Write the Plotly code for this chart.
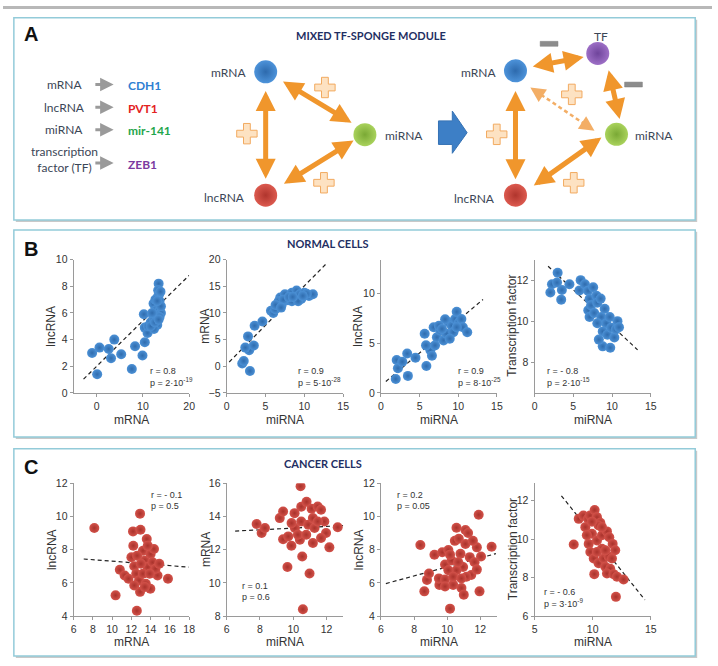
import plotly.graph_objects as go

W, H = 718, 666

# ---------------- data: NORMAL CELLS ----------------
n1_mrna = [-1.0, 0.1, 0.6, 2.6, 3.1, 3.8, 5.3, 7.6, 8.3, 9.9, 10.4, 10.2, 10.4, 11.0, 11.1,
           13.4, 13.3, 13.5, 13.2, 13.6, 12.9, 13.3, 12.3, 12.8, 13.6, 13.9, 12.2, 13.0, 13.6,
           11.7, 12.4, 13.1, 12.4, 11.7, 13.9, 12.7, 13.8, 12.0, 13.1, 12.6, 13.4]
n1_lnc = [3.0, 1.4, 3.4, 3.3, 2.6, 4.0, 2.9, 1.8, 3.5, 2.8, 3.8, 5.9, 4.9, 4.5, 5.0,
          8.2, 7.7, 7.4, 7.2, 6.9, 6.7, 6.5, 6.7, 6.2, 6.2, 6.0, 5.8, 5.8, 5.7,
          5.3, 5.5, 5.1, 4.8, 5.0, 6.5, 7.0, 7.6, 6.0, 6.9, 5.3, 5.5]
n1_fit_x = [-2.85, 20.0]
n1_fit_y = [1.03, 8.82]

n2_mir = [2.0, 2.2, 3.0, 2.9, 2.4, 2.75, 3.5, 3.6, 4.6, 5.7, 6.0, 6.25, 6.9, 7.1, 7.5, 7.9,
          8.4, 8.8, 9.0, 9.4, 10.0, 10.6, 11.1, 9.6, 6.7, 8.4, 9.2, 7.3, 8.0, 10.3, 6.3, 7.0, 8.5, 9.8]
n2_mrna = [0.5, 1.0, -0.9, 3.0, 3.5, 5.6, 3.9, 7.6, 8.4, 10.4, 10.0, 10.7, 12.9, 11.6, 13.5, 12.4,
           13.8, 12.9, 14.2, 13.5, 13.8, 13.2, 13.5, 12.6, 12.2, 12.2, 12.2, 12.5, 13.0, 13.6, 11.5, 11.0, 13.0, 13.2]
n2_fit_x = [0.33, 13.0]
n2_fit_y = [0.8, 19.5]

n3_mir = [1.92, 2.04, 2.2, 2.77, 3.4, 3.49, 4.47, 5.66, 5.88, 6.4, 6.6, 5.83, 6.82, 7.0, 7.24, 7.67,
          8.1, 8.5, 8.73, 9.16, 9.37, 9.6, 9.8, 10.1, 10.4, 10.6, 11.16, 8.3, 7.5, 8.9, 7.9, 9.8]
n3_lnc = [1.39, 3.3, 2.47, 3.13, 3.96, 1.71, 3.53, 5.94, 2.7, 4.29, 3.73, 4.78, 6.6, 4.78, 5.6, 6.27,
          5.28, 5.94, 7.1, 6.76, 6.1, 7.42, 8.15, 7.1, 7.42, 6.6, 6.1, 7.4, 6.76, 5.45, 6.43, 6.6]
n3_fit_x = [0.64, 13.2]
n3_fit_y = [1.15, 9.4]

n4_mir = [2.04, 2.25, 2.9, 2.98, 3.53, 3.44, 4.5, 5.95, 5.8, 6.5, 6.9, 7.1, 7.57, 7.99, 6.93, 7.1,
          7.3, 7.7, 8.1, 8.62, 9.05, 9.26, 8.8, 9.4, 9.9, 10.3, 10.7, 10.5, 10.9, 8.8, 9.77, 8.53, 8.1, 9.7, 8.3]
n4_tf = [11.4, 11.8, 11.88, 12.36, 11.52, 11.05, 11.8, 12.0, 11.5, 11.8, 11.48, 11.08, 11.65, 11.24, 10.53, 10.2,
         10.77, 10.4, 10.9, 10.2, 10.6, 9.89, 9.5, 9.34, 9.68, 9.2, 10.0, 9.6, 9.7, 8.77, 8.7, 11.1, 9.9, 10.2, 9.1]
n4_fit_x = [1.75, 13.3]
n4_fit_y = [12.68, 8.6]

# ---------------- data: CANCER CELLS ----------------
c1_mrna = [8.15, 10.36, 10.8, 11.3, 11.7, 12.57, 12.17, 12.9, 12.95, 13.6, 12.9, 13.97, 14.72, 15.8, 12.2,
           12.0, 12.3, 12.5, 12.8, 13.2, 13.4, 13.7, 14.0, 14.2, 14.5, 14.9, 14.35, 13.5, 13.2, 13.9,
           12.6, 13.0, 13.7, 12.3, 13.4]
c1_lnc = [9.3, 5.25, 6.79, 6.45, 6.25, 4.32, 9.1, 10.17, 9.2, 8.64, 5.46, 5.65, 6.45, 6.25, 8.24,
          7.54, 7.0, 6.55, 6.15, 7.94, 7.35, 6.95, 7.74, 7.24, 6.85, 7.15, 8.04, 5.95, 6.55, 6.55,
          7.64, 7.15, 8.24, 5.85, 5.75]
c1_fit_x = [7.05, 17.96]
c1_fit_y = [7.44, 6.95]

c2_mir = [10.44, 7.8, 8.1, 8.3, 9.19, 9.39, 9.7, 9.89, 9.65, 10.48, 10.8, 11.1, 11.47, 11.67, 11.87, 11.97,
          12.17, 12.67, 10.98, 10.54, 10.58, 11.67, 11.18, 10.4, 10.1, 10.48, 10.9, 11.28, 10.08, 10.28,
          10.78, 11.18, 9.39, 11.47, 9.9]
c2_mrna = [15.82, 13.55, 13.0, 13.3, 13.9, 12.63, 12.8, 12.24, 10.96, 14.59, 14.88, 14.47, 14.6, 14.4, 13.7, 13.0,
           12.14, 13.35, 10.57, 11.59, 8.41, 12.7, 12.4, 12.6, 13.3, 13.7, 13.5, 13.3, 14.2, 12.9,
           12.9, 13.9, 14.3, 13.7, 13.6]
c2_fit_x = [6.51, 13.0]
c2_fit_y = [13.12, 13.45]

c3_mir = [8.38, 8.62, 8.78, 8.9, 9.23, 9.53, 9.5, 9.7, 9.87, 10.17, 9.87, 10.07, 10.27, 10.36, 10.46, 10.56,
          10.7, 10.86, 11.0, 11.1, 11.26, 11.1, 10.8, 10.96, 11.36, 11.45, 11.65, 11.79, 11.9, 11.95,
          12.04, 11.79, 12.68, 10.56, 10.07, 10.36, 10.66, 11.16, 11.55, 9.87, 10.86, 10.17]
c3_lnc = [8.28, 5.49, 6.18, 6.57, 7.69, 5.88, 6.27, 7.84, 6.2, 4.45, 7.1, 7.98, 7.35, 5.88, 8.53, 9.32,
          8.66, 5.69, 5.29, 9.18, 9.0, 8.34, 7.75, 6.96, 7.55, 6.47, 7.25, 8.14, 10.1, 5.49,
          7.59, 6.8, 8.18, 6.76, 6.76, 6.37, 7.25, 6.37, 8.53, 5.78, 6.27, 7.7]
c3_fit_x = [6.3, 12.94]
c3_fit_y = [5.96, 7.76]

c4_mir = [8.37, 8.8, 9.2, 9.6, 9.37, 9.77, 10.17, 10.37, 10.66, 9.94, 10.37, 10.8, 11.23, 11.43, 11.72,
          9.66, 9.8, 10.09, 10.51, 10.94, 11.37, 11.66, 11.09, 11.51, 11.23, 10.14, 11.8, 12.09, 12.66,
          12.0, 9.5, 10.8, 10.37, 11.09, 11.94, 10.51, 9.94, 10.8]
c4_tf = [9.72, 11.05, 11.22, 11.05, 10.62, 11.22, 11.51, 11.14, 10.85, 10.28, 9.93, 10.2, 10.4, 10.1, 9.75,
         9.75, 9.33, 8.99, 8.75, 8.99, 9.1, 8.99, 8.56, 8.46, 8.21, 8.18, 8.18, 8.05, 7.9,
         7.0, 10.2, 9.5, 9.33, 9.42, 9.42, 10.71, 10.9, 10.62]
c4_fit_x = [7.31, 14.5]
c4_fit_y = [12.25, 6.84]

# axis ticks
ticks_b1_x = [0, 10, 20];  ticks_b1_y = [0, 2, 4, 6, 8, 10]
ticks_b2_x = [0, 5, 10, 15]; ticks_b2_y = [-5, 0, 5, 10, 15, 20]
ticks_b3_x = [0, 5, 10, 15]; ticks_b3_y = [0, 5, 10]
ticks_b4_x = [0, 5, 10, 15]; ticks_b4_y = [8, 10, 12]
ticks_c1_x = [6, 8, 10, 12, 14, 16, 18]; ticks_c1_y = [4, 6, 8, 10, 12]
ticks_c2_x = [6, 8, 10, 12]; ticks_c2_y = [8, 10, 12, 14, 16]
ticks_c3_x = [6, 8, 10, 12]; ticks_c3_y = [4, 6, 8, 10, 12]
ticks_c4_x = [5, 10, 15]; ticks_c4_y = [6, 8, 10, 12]

BLUE, BLUE_EDGE = "#4c91d6", "#2f6cae"
RED, RED_EDGE = "#d3524a", "#a9322b"

panels = [
    (n1_mrna, n1_lnc, BLUE, BLUE_EDGE, [-5, 20], ticks_b1_x, [0, 10], ticks_b1_y, "mRNA", "lncRNA",
     n1_fit_x, n1_fit_y, "r = 0.8", "p = 2·10<sup>-19</sup>", (147, 372)),
    (n2_mir, n2_mrna, BLUE, BLUE_EDGE, [0, 15], ticks_b2_x, [-5, 20], ticks_b2_y, "miRNA", "mRNA",
     n2_fit_x, n2_fit_y, "r = 0.9", "p = 5·10<sup>-28</sup>", (297, 372)),
    (n3_mir, n3_lnc, BLUE, BLUE_EDGE, [0, 15], ticks_b3_x, [0, 13.4], ticks_b3_y, "miRNA", "lncRNA",
     n3_fit_x, n3_fit_y, "r = 0.9", "p = 8·10<sup>-25</sup>", (459, 372)),
    (n4_mir, n4_tf, BLUE, BLUE_EDGE, [0, 15], ticks_b4_x, [6.5, 13], ticks_b4_y, "miRNA", "Transcription factor",
     n4_fit_x, n4_fit_y, "r = - 0.8", "p = 2·10<sup>-15</sup>", (549, 372)),
    (c1_mrna, c1_lnc, RED, RED_EDGE, [6, 18], ticks_c1_x, [4, 12], ticks_c1_y, "mRNA", "lncRNA",
     c1_fit_x, c1_fit_y, "r = - 0.1", "p = 0.5", (148, 498)),
    (c2_mir, c2_mrna, RED, RED_EDGE, [6, 13], ticks_c2_x, [8, 16], ticks_c2_y, "miRNA", "mRNA",
     c2_fit_x, c2_fit_y, "r = 0.1", "p = 0.6", (240, 591)),
    (c3_mir, c3_lnc, RED, RED_EDGE, [6, 13], ticks_c3_x, [4, 12], ticks_c3_y, "miRNA", "lncRNA",
     c3_fit_x, c3_fit_y, "r = 0.2", "p = 0.05", (397, 498)),
    (c4_mir, c4_tf, RED, RED_EDGE, [5, 15], ticks_c4_x, [6, 12.9], ticks_c4_y, "miRNA", "Transcription factor",
     c4_fit_x, c4_fit_y, "r = - 0.6", "p = 3·10<sup>-9</sup>", (546, 597)),
]

# pixel boxes of the plot areas
col_px = [(71.5, 188.5), (226.5, 344.5), (382.7, 500.2), (538.3, 656.0)]
row_px = [(258.3, 394.0), (486.0, 621.3)]
ytitle_px = [49, 205, 360, 516]
xtitle_py = [421.7, 648.0]

# ---------------- diagram (panel A) ----------------
node1_names = ["mRNA", "lncRNA", "miRNA"]
node1_x = [266, 266, 366.5]
node1_y = [67, 192.7, 131]
node2_names = ["mRNA", "lncRNA", "miRNA", "TF"]
node2_x = [519, 519, 621.3, 602.3]
node2_y = [66, 192.7, 130.7, 48.3]
node_colors = {"mRNA": ("#4d93da", "#2d6aad"), "lncRNA": ("#dc5a4f", "#b0352d"),
               "miRNA": ("#a9d25c", "#7aa935"), "TF": ("#9d6fc6", "#6f449b")}

legend_terms = ["mRNA", "lncRNA", "miRNA", "transcription<br>factor (TF)"]
legend_genes = ["CDH1", "PVT1", "mir-141", "ZEB1"]
legend_gene_colors = ["#2f80d2", "#e32222", "#1fa64c", "#7b3aa0"]

FONT = "Liberation Sans, Arial"
DFONT = "Lato, Open Sans"


def P(x, y):
    return x / W, 1 - y / H


fig = go.Figure()
annotations = []
shapes = []
layout_axes = {}

for i, (xs, ys, col, edge, xr, xt, yr, yt, xtitle, ytitle, fx, fy, rt, pt, spx) in enumerate(panels):
    k = i + 1
    c = i % 4
    r = i // 4
    x0, x1 = col_px[c]
    y0, y1 = row_px[r]
    xa = "xaxis" if k == 1 else f"xaxis{k}"
    ya = "yaxis" if k == 1 else f"yaxis{k}"
    xref = "x" if k == 1 else f"x{k}"
    yref = "y" if k == 1 else f"y{k}"
    axis_common = dict(showgrid=False, zeroline=False, showline=True, linecolor="#9a9a9a", linewidth=1,
                       ticks="outside", ticklen=3, tickcolor="#9a9a9a",
                       tickfont=dict(family=FONT, size=10.5, color="#333333"), fixedrange=True)
    layout_axes[xa] = dict(domain=[x0 / W, x1 / W], range=xr, tickvals=xt, anchor=yref, **axis_common)
    layout_axes[ya] = dict(domain=[1 - y1 / H, 1 - y0 / H], range=yr, tickvals=yt, anchor=xref, **axis_common)
    fig.add_trace(go.Scatter(x=fx, y=fy, mode="lines", xaxis=xref, yaxis=yref,
                             line=dict(color="#222222", width=1.2, dash="4px,3px"), hoverinfo="skip"))
    fig.add_trace(go.Scatter(x=xs, y=ys, mode="markers", xaxis=xref, yaxis=yref,
                             marker=dict(size=10, color=col, line=dict(width=0),
                                         gradient=dict(type="radial", color=edge))))
    # axis titles
    tx, ty = P((x0 + x1) / 2, xtitle_py[r])
    annotations.append(dict(x=tx, y=ty, xref="paper", yref="paper", text=xtitle, showarrow=False,
                            font=dict(family=FONT, size=12, color="#333333")))
    tx, ty = P(ytitle_px[c], (y0 + y1) / 2)
    annotations.append(dict(x=tx, y=ty, xref="paper", yref="paper", text=ytitle, showarrow=False, textangle=-90,
                            font=dict(family=FONT, size=12, color="#333333")))
    # stats
    sx, sy = P(spx[0], spx[1])
    annotations.append(dict(x=sx, y=sy, xref="paper", yref="paper", text=rt, showarrow=False, xanchor="left",
                            font=dict(family=FONT, size=9, color="#333333")))
    sx, sy = P(spx[0], spx[1] + 11)
    annotations.append(dict(x=sx, y=sy, xref="paper", yref="paper", text=pt, showarrow=False, xanchor="left",
                            font=dict(family=FONT, size=9, color="#333333")))

# overlay axis in pixel units for the diagram
layout_axes["xaxis9"] = dict(domain=[0, 1], range=[0, W], visible=False, fixedrange=True, anchor="y9")
layout_axes["yaxis9"] = dict(domain=[0, 1], range=[H, 0], visible=False, fixedrange=True, anchor="x9")

# panel frames (paper, below)
for (px0, py0, px1, py1) in [(11, 12, 701, 218), (11, 228, 701, 439), (11, 451, 701, 662)]:
    a, b = P(px0 + 2, py1 + 2)
    c_, d = P(px1 + 2, py0 + 2)
    shapes.append(dict(type="rect", xref="paper", yref="paper", x0=a, y0=b, x1=c_, y1=d,
                       fillcolor="#c9c9c9", line=dict(width=0), layer="below"))
    a, b = P(px0, py1)
    c_, d = P(px1, py0)
    shapes.append(dict(type="rect", xref="paper", yref="paper", x0=a, y0=b, x1=c_, y1=d,
                       fillcolor="white", line=dict(color="#93cbd9", width=1.5), layer="below"))
a, b = P(0, 3)
shapes.append(dict(type="rect", xref="paper", yref="paper", x0=0, y0=b, x1=1, y1=1,
                   fillcolor="#b8b8b8", line=dict(width=0), layer="below"))

# panel letters and titles
for lab, (lx, ly) in zip(["A", "B", "C"], [(28, 28), (28, 247), (28, 469)]):
    annotations.append(dict(x=lx, y=ly, xref="x9", yref="y9", text=f"<b>{lab}</b>", showarrow=False,
                            font=dict(family=FONT, size=20, color="#111111")))
for t, (tx, ty) in [("MIXED TF-SPONGE MODULE", (373, 30)), ("NORMAL CELLS", (329, 242)),
                    ("CANCER CELLS", (324, 466))]:
    annotations.append(dict(x=tx, y=ty, xref="x9", yref="y9", text=f"<b>{t}</b>", showarrow=False,
                            font=dict(family=DFONT, size=11, color="#1f2f63")))

# legend in panel A
leg_y = [80, 103, 126, 156]
for term, gene, gcol, yy in zip(legend_terms, legend_genes, legend_gene_colors, leg_y):
    annotations.append(dict(x=62, y=yy, xref="x9", yref="y9", text=term, showarrow=False,
                            font=dict(family=DFONT, size=12, color="#3b4656")))
    ay_ = yy if yy != 156 else 160
    annotations.append(dict(x=112, y=ay_, ax=92, ay=ay_, xref="x9", yref="y9", axref="x9", ayref="y9", text="",
                            showarrow=True, arrowhead=2, arrowsize=0.9, arrowwidth=3, arrowcolor="#9a9a9a",
                            standoff=0, startstandoff=0))
    annotations.append(dict(x=125, y=ay_ + 1, xref="x9", yref="y9", text=f"<b>{gene}</b>", showarrow=False,
                            xanchor="left", font=dict(family=DFONT, size=12, color=gcol)))

ORANGE = "#f0962c"


def darrow(x0, y0, x1, y1):
    return dict(x=x1, y=y1, ax=x0, ay=y0, xref="x9", yref="y9", axref="x9", ayref="y9", text="",
                showarrow=True, arrowhead=2, startarrowhead=2, arrowsize=0.8, startarrowsize=0.8,
                arrowwidth=5, arrowcolor=ORANGE, arrowside="end+start", standoff=0, startstandoff=0)


for seg in [(282, 76, 353, 119), (266, 85, 266, 176), (283, 182, 355, 137),
            (535, 62, 588, 52), (613, 64, 624.5, 115), (519, 85, 519, 176.5), (536, 184, 606, 134)]:
    annotations.append(darrow(*seg))

# dashed double arrow (mRNA <-> miRNA, second diagram)
shapes.append(dict(type="line", xref="x9", yref="y9", x0=539, y0=86.3, x1=594, y1=123.7,
                   line=dict(color="#f3ae66", width=2.5, dash="4px,3px")))
for (hx, hy, tx_, ty_) in [(534, 83, 540, 87), (599, 127, 593, 123)]:
    annotations.append(dict(x=hx, y=hy, ax=tx_, ay=ty_, xref="x9", yref="y9", axref="x9", ayref="y9", text="",
                            showarrow=True, arrowhead=2, arrowsize=1.0, arrowwidth=3, arrowcolor="#f3ae66",
                            standoff=0, startstandoff=0))

# big blue arrow
shapes.append(dict(type="path", xref="x9", yref="y9",
                   path="M 441 117 L 455 117 L 455 107 L 470 129 L 455 150 L 455 141 L 441 141 Z",
                   fillcolor="#3d7fc6", line=dict(color="#3572b4", width=1)))

# minus bars
for (mx, my) in [(553, 38.5), (638.5, 80)]:
    shapes.append(dict(type="rect", xref="x9", yref="y9", x0=mx - 9, y0=my - 2.5, x1=mx + 9, y1=my + 2.5,
                       fillcolor="#8c8c8c", line=dict(color="#7a7a7a", width=0.5)))

# plus signs
plus_x = [326, 247, 325, 576, 500, 578]
plus_y = [83, 130, 180, 90, 130.7, 180]
fig.add_trace(go.Scatter(x=plus_x, y=plus_y, mode="markers", xaxis="x9", yaxis="y9", hoverinfo="skip",
                         marker=dict(symbol="cross", size=17, color="#fde2c2",
                                     line=dict(color="#f2aa60", width=1))))

# nodes
for names, xs, ys in [(node1_names, node1_x, node1_y), (node2_names, node2_x, node2_y)]:
    fig.add_trace(go.Scatter(x=xs, y=ys, mode="markers", xaxis="x9", yaxis="y9", hoverinfo="skip",
                             marker=dict(size=23, color=[node_colors[n][0] for n in names],
                                         line=dict(width=0),
                                         gradient=dict(type="radial", color=[node_colors[n][1] for n in names]))))

# node labels
for text, x, y, anchor in [("mRNA", 248, 68, "right"), ("lncRNA", 247, 195, "right"), ("miRNA", 385, 132, "left"),
                           ("mRNA", 501, 68, "right"), ("lncRNA", 500, 196, "right"), ("miRNA", 638, 132, "left"),
                           ("TF", 606, 31, "center")]:
    annotations.append(dict(x=x, y=y, xref="x9", yref="y9", text=text, showarrow=False, xanchor=anchor,
                            font=dict(family=DFONT, size=12, color="#3b4656")))

for a in annotations:
    a.setdefault("xanchor", "center")
    a.setdefault("yanchor", "middle")

fig.update_layout(width=W, height=H, margin=dict(l=0, r=0, t=0, b=0), showlegend=False,
                  paper_bgcolor="white", plot_bgcolor="rgba(0,0,0,0)",
                  annotations=annotations, shapes=shapes, **layout_axes)

fig.write_html("out.html")
